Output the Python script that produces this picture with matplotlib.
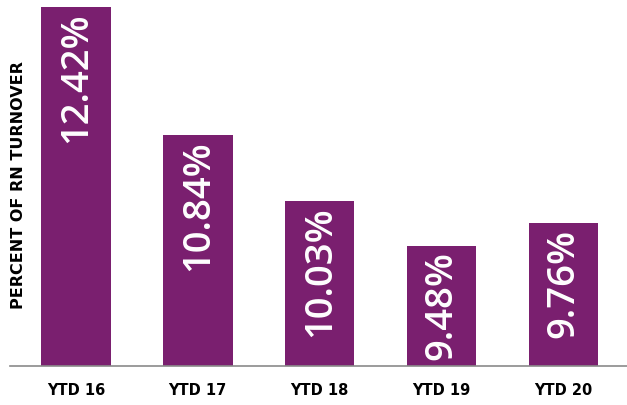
import matplotlib.pyplot as plt

categories = ["YTD 16", "YTD 17", "YTD 18", "YTD 19", "YTD 20"]
values = [12.42, 10.84, 10.03, 9.48, 9.76]
labels = ["12.42%", "10.84%", "10.03%", "9.48%", "9.76%"]

purple = "#7a1f6f"

fig = plt.figure(figsize=(6.27, 4.05), dpi=100)
ax = fig.add_axes((0.016, 0.096, 0.984, 0.904))

x = list(range(len(categories)))
ax.bar(x, values, width=0.57, color=purple, bottom=0)
ax.set_ylim(8, 12.5)
ax.set_xlim(-0.54, 4.52)

for xi, v, lab in zip(x, values, labels):
    ax.annotate(lab, (xi, v), xytext=(0, -4), textcoords="offset points",
                rotation=90, ha="center", va="top", color="white",
                fontsize=27.5, fontweight="semibold", fontfamily="Open Sans")

for s in ("top", "right", "left"):
    ax.spines[s].set_visible(False)
ax.spines["bottom"].set_color("#8a8a8a")
ax.spines["bottom"].set_linewidth(1.2)

ax.set_yticks([])
ax.set_xticks(x)
ax.set_xticklabels(categories, fontsize=10.5, fontweight="bold",
                   fontfamily="DejaVu Sans Condensed")
ax.tick_params(axis="x", length=0, pad=12)

fig.text(0.029, 0.543, "PERCENT OF RN TURNOVER", rotation=90, ha="center",
         va="center", fontsize=11.5, fontweight="bold",
         fontfamily="DejaVu Sans Condensed")

fig.savefig("out.png", dpi=100)
